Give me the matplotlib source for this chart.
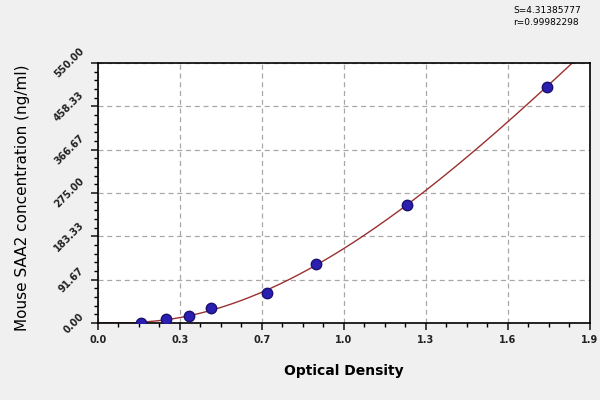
import numpy as np
import matplotlib.pyplot as plt
from matplotlib.ticker import AutoMinorLocator

# standard curve points
od = [0.166, 0.263, 0.351, 0.436, 0.653, 0.842, 1.193, 1.734]
conc = [0.0, 7.8, 15.6, 31.25, 62.5, 125.0, 250.0, 500.0]
fit_text = ["S=4.31385777", "r=0.99982298"]

x_max, y_max = 1.9, 550.0
x_ticks = np.linspace(0, x_max, 7)
y_ticks = np.linspace(0, y_max, 7)
x_labels = ["0.0", "0.3", "0.7", "1.0", "1.3", "1.6", "1.9"]
y_labels = ["0.00", "91.67", "183.33", "275.00", "366.67", "458.33", "550.00"]

# smooth fit through the standards
coef = np.polyfit(od, conc, 3)
xs = np.linspace(0, x_max, 400)
ys = np.polyval(coef, xs)
ys[xs < od[0]] = 0
ys = np.clip(ys, 0, None)

fig = plt.figure(figsize=(6, 4), dpi=100, facecolor="#f0f0f0")
ax = fig.add_axes([0.163, 0.1925, 0.82, 0.65])
ax.set_facecolor("white")

ax.plot(xs, ys, color="#9a3030", lw=1.0, zorder=2)
ax.plot(od, conc, "o", color="#2a1fb0", mec="#1a1070", ms=7.5, zorder=3)

ax.set_xlim(0, x_max)
ax.set_ylim(0, y_max)
ax.set_xticks(x_ticks)
ax.set_xticklabels(x_labels)
ax.set_yticks(y_ticks)
ax.set_yticklabels(y_labels, rotation=45, va="center", ha="right")
ax.xaxis.set_minor_locator(AutoMinorLocator(4))
ax.yaxis.set_minor_locator(AutoMinorLocator(5))
ax.tick_params(which="major", length=5, width=1.2, labelsize=7, colors="#222222")
ax.tick_params(which="minor", length=3, width=1.0)
for lab in ax.get_xticklabels() + ax.get_yticklabels():
    lab.set_fontweight("bold")

ax.grid(True, which="major", ls=(0, (4, 3)), color="#a8a8a8", lw=0.9)
for side in ax.spines.values():
    side.set_linewidth(1.2)

ax.set_xlabel("Optical Density", fontsize=10, fontweight="bold", labelpad=14)
ax.set_ylabel("Mouse SAA2 concentration (ng/ml)", fontsize=11)
ax.yaxis.set_label_coords(-0.138, 0.48)

fig.text(0.855, 0.985, fit_text[0], fontsize=6.5, ha="left", va="top")
fig.text(0.855, 0.955, fit_text[1], fontsize=6.5, ha="left", va="top")

fig.savefig("out.png", dpi=100, facecolor=fig.get_facecolor())
